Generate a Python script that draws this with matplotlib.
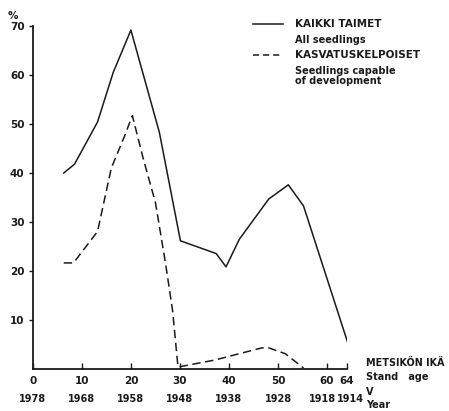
import matplotlib
matplotlib.use('Agg')
import matplotlib.pyplot as plt
import matplotlib.transforms as mtransforms

# stand age (years) and share of plots with seedlings (%)
all_age = [6.3, 8.5, 13.2, 16.4, 20.0, 25.8, 30.1, 37.4, 39.4, 42.1, 48.1, 52.1, 55.2, 64.3]
all_pct = [40.0, 41.8, 50.4, 60.5, 69.1, 48.3, 26.2, 23.6, 20.9, 26.5, 34.7, 37.6, 33.3, 5.2]

dev_age = [6.3, 8.3, 13.2, 16.0, 18.7, 20.3, 22.5, 25.0, 27.0, 28.5, 29.6,
           37.0, 46.7, 48.1, 51.5, 55.2]
dev_pct = [21.7, 21.7, 28.1, 41.0, 47.5, 51.7, 43.0, 34.0, 22.0, 12.0, 0.5,
           1.9, 4.4, 4.4, 3.2, 0.3]

age_ticks = [0, 10, 20, 30, 40, 50, 60, 64]
year_labels = ['1978', '1968', '1958', '1948', '1938', '1928', '1918', '1914']
pct_ticks = [10, 20, 30, 40, 50, 60, 70]

ink = '#1a1a1a'
fs = 7.5
plt.rcParams['font.family'] = 'DejaVu Sans'
plt.rcParams['font.weight'] = 'bold'

fig = plt.figure(figsize=(4.49, 4.11), dpi=100)
ax = fig.add_axes((0.0731, 0.101, 0.699, 0.8365))

ax.plot(all_age, all_pct, color=ink, lw=1.1)
ax.plot(dev_age, dev_pct, color=ink, lw=1.1, dashes=(5.5, 3))

ax.set_xlim(0, 64)
ax.set_ylim(0, 70)
for s in ('top', 'right'):
    ax.spines[s].set_visible(False)
for s in ('left', 'bottom'):
    ax.spines[s].set_linewidth(1.3)
    ax.spines[s].set_color(ink)

ax.set_xticks(age_ticks)
ax.set_xticklabels([str(a) for a in age_ticks], fontsize=fs, color=ink)
ax.set_yticks(pct_ticks)
ax.set_yticklabels([str(p) for p in pct_ticks], fontsize=fs, color=ink)
ax.tick_params(axis='x', direction='in', length=4, width=1, pad=5, color=ink)
ax.tick_params(axis='y', direction='out', length=3, width=1, pad=3, color=ink)

# second row of x labels: calendar year
trans = mtransforms.blended_transform_factory(ax.transData, fig.transFigure)
for a, yr in zip(age_ticks, year_labels):
    shift = -1.0 if a == 60 else (0.7 if a == 64 else 0)
    ax.text(a + shift, 1 - 399 / 411, yr, transform=trans, fontsize=7, color=ink,
            ha='center', va='center')

fig.text(13 / 449, 1 - 16 / 411, '%', fontsize=fs, color=ink, ha='center', va='center')

# legend drawn by hand like the original
fig.add_artist(plt.Line2D([253 / 449, 283 / 449], [1 - 24 / 411] * 2, color=ink, lw=1.1))
fig.add_artist(plt.Line2D([253 / 449, 283 / 449], [1 - 55 / 411] * 2, color=ink, lw=1.1,
                          dashes=(4, 2.6)))
lx = 295 / 449
fig.text(lx, 1 - 24 / 411, 'KAIKKI TAIMET', fontsize=fs, color=ink, va='center')
fig.text(lx, 1 - 40 / 411, 'All seedlings', fontsize=fs - 0.5, color=ink, va='center')
fig.text(lx, 1 - 55 / 411, 'KASVATUSKELPOISET', fontsize=fs, color=ink, va='center')
fig.text(lx, 1 - 76 / 411, 'Seedlings capable\nof development', fontsize=fs - 0.5,
         color=ink, va='center', linespacing=1.1)

# axis title at the right end
tx = 366 / 449
fig.text(tx, 1 - 363 / 411, 'METSIKÖN IKÄ', fontsize=6.9, color=ink, va='center')
fig.text(tx, 1 - 377 / 411, 'Stand   age', fontsize=fs - 0.5, color=ink, va='center')
fig.text(tx, 1 - 392 / 411, 'V', fontsize=fs - 0.5, color=ink, va='center')
fig.text(tx, 1 - 405 / 411, 'Year', fontsize=fs - 0.5, color=ink, va='center')

fig.savefig('out.png', dpi=100, facecolor='white')
